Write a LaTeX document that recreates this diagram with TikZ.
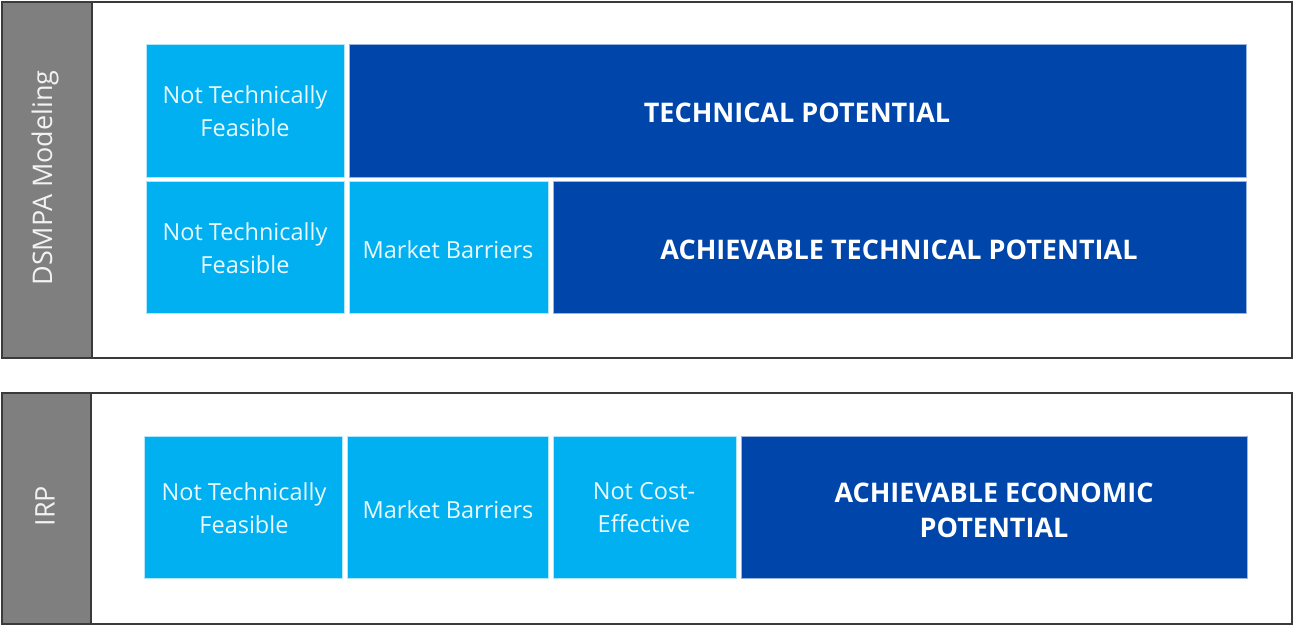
\documentclass[tikz,border=0pt]{standalone}
\usepackage{fontspec}
\setmainfont{Open Sans}
\definecolor{lightb}{HTML}{00B0F0}
\definecolor{darkb}{HTML}{0046AA}
\definecolor{barg}{HTML}{7F7F7F}
\definecolor{framec}{HTML}{3A3A3A}
\begin{document}
\begin{tikzpicture}[x=1pt,y=-1pt,
  panel/.style={draw=framec,line width=1.5pt,fill=white},
  bar/.style={fill=barg},
  lbox/.style={fill=lightb,draw=white!70!lightb,line width=0.8pt},
  dbox/.style={fill=darkb,draw=white!60!darkb,line width=0.8pt},
  ltext/.style={text=white!92!lightb,font=\fontsize{23.5}{33}\selectfont,align=center},
  dtext/.style={text=white,font=\fontsize{27}{35}\selectfont\bfseries,align=center},
  bartext/.style={text=white!90!barg,font=\fontsize{27}{30}\selectfont,rotate=90}]
\useasboundingbox (0,0) rectangle (1293,625);
% top panel
\draw[panel] (2,2) rectangle (1292,358);
\fill[bar] (2.75,2.75) rectangle (91,357.25);
\draw[framec,line width=1.2pt] (92,2) -- (92,358);
\node[bartext] (lab1) at (45,178) {DSMPA Modeling};
% row 1
\draw[lbox] (146,44) rectangle (344,177);
\node[ltext] (t1a) at (245,111) {Not Technically\\Feasible};
\draw[dbox] (349,44) rectangle (1246,177);
\node[dtext] (t1b) at (797,113) {TECHNICAL POTENTIAL};
% row 2
\draw[lbox] (146,181) rectangle (344,313);
\node[ltext] (t2a) at (245,248) {Not Technically\\Feasible};
\draw[lbox] (349,181) rectangle (548,313);
\node[ltext] (t2b) at (448,250) {Market Barriers};
\draw[dbox] (553,181) rectangle (1246,313);
\node[dtext] (t2c) at (899,250) {ACHIEVABLE TECHNICAL POTENTIAL};
% bottom panel
\draw[panel] (2,393) rectangle (1292,624);
\fill[bar] (2.75,393.75) rectangle (90,623.25);
\draw[framec,line width=1.2pt] (91,393) -- (91,624);
\node[bartext] (lab2) at (45,506) {IRP};
\draw[lbox] (144,436) rectangle (342,578);
\node[ltext] (t3a) at (244,508) {Not Technically\\Feasible};
\draw[lbox] (347,436) rectangle (548,578);
\node[ltext] (t3b) at (448,510) {Market Barriers};
\draw[lbox] (553,436) rectangle (736,578);
\node[ltext] (t3c) at (644,508) {Not Cost-\\Effective};
\draw[dbox] (741,436) rectangle (1247,578);
\node[dtext] (t3d) at (994,510) {ACHIEVABLE ECONOMIC\\POTENTIAL};
\end{tikzpicture}
\end{document}
